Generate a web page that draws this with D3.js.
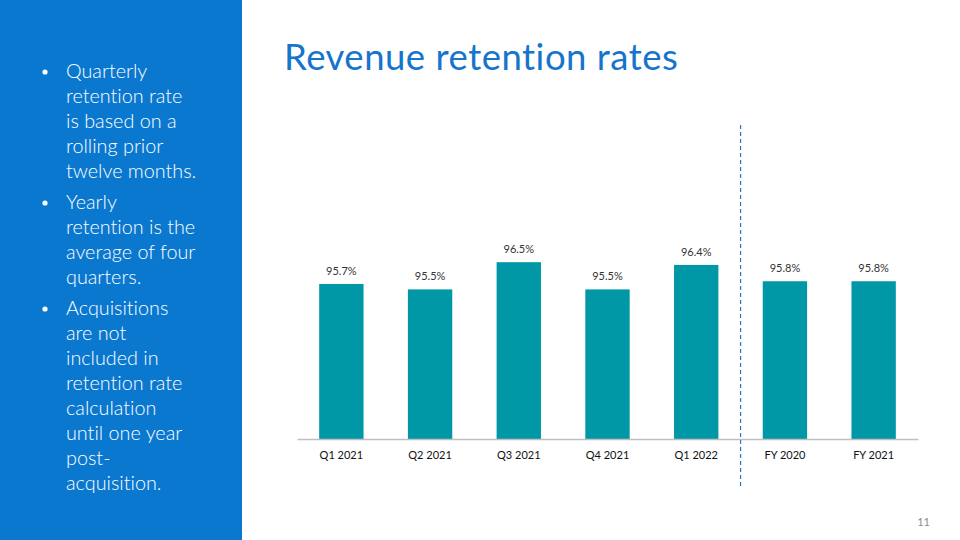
<!DOCTYPE html>
<html>
<head>
<meta charset="utf-8">
<script src="https://cdn.jsdelivr.net/npm/d3@7"></script>
<style>
  body { margin: 0; background: #fff; }
  svg { display: block; }
  text { font-variant-ligatures: none; }
</style>
</head>
<body>
<div id="chart"></div>
<script>
// data
const categories = ['Q1 2021', 'Q2 2021', 'Q3 2021', 'Q4 2021', 'Q1 2022', 'FY 2020', 'FY 2021']
const retention = [95.7, 95.5, 96.5, 95.5, 96.4, 95.8, 95.8]
const notes = [
    ['Quarterly', 'retention rate', 'is based on a', 'rolling prior', 'twelve months.'],
    ['Yearly', 'retention is the', 'average of four', 'quarters.'],
    ['Acquisitions', 'are not', 'included in', 'retention rate', 'calculation', 'until one year', 'post-', 'acquisition.']
]
const title = 'Revenue retention rates'
const pageNumber = '11'

const width = 960
const height = 540
const blue = '#0B78D0'
const teal = '#0097A6'

const svg = d3.select('#chart')
    .append('svg')
    .attr('width', width)
    .attr('height', height)

// left panel
svg.append('rect')
    .attr('width', 242)
    .attr('height', height)
    .attr('fill', blue)

const noteGroup = svg.append('g')
    .attr('font-family', 'Lato, sans-serif')
    .attr('font-weight', 300)
    .attr('font-size', 19.8)
    .attr('fill', '#fff')

let y = 78
notes.forEach((lines) => {
    noteGroup.append('circle')
        .attr('cx', 45)
        .attr('cy', y - 6)
        .attr('r', 2.6)
    lines.forEach((line) => {
        noteGroup.append('text')
            .attr('x', 66)
            .attr('y', y)
            .text(line)
        y += 25
    })
    y += 6
})

// title
svg.append('text')
    .attr('x', 284)
    .attr('y', 70)
    .attr('font-family', 'Lato, sans-serif')
    .attr('font-size', 36.5)
    .attr('letter-spacing', 0.5)
    .attr('fill', '#1574CC')
    .text(title)

// page number
svg.append('text')
    .attr('x', 930)
    .attr('y', 526)
    .attr('text-anchor', 'end')
    .attr('font-family', 'Lato, sans-serif')
    .attr('font-size', 11)
    .attr('fill', '#8c8c8c')
    .text(pageNumber)

// chart
const dims = { left: 297, right: 918, top: 167, bottom: 439 }

const xScale = d3.scaleBand()
    .domain(categories)
    .range([dims.left, dims.right])
    .paddingInner(0.5)
    .paddingOuter(0.25)

const yScale = d3.scaleLinear()
    .domain([90, 100])
    .range([dims.bottom, dims.top])

const ctr = svg.append('g')

ctr.selectAll('rect.bar')
    .data(retention)
    .join('rect')
    .attr('class', 'bar')
    .attr('x', (d, i) => xScale(categories[i]))
    .attr('y', d => yScale(d))
    .attr('width', xScale.bandwidth())
    .attr('height', d => yScale(90) - yScale(d))
    .attr('fill', teal)

ctr.selectAll('text.value')
    .data(retention)
    .join('text')
    .attr('class', 'value')
    .attr('x', (d, i) => xScale(categories[i]) + xScale.bandwidth() / 2)
    .attr('y', d => yScale(d) - 9)
    .attr('text-anchor', 'middle')
    .attr('font-family', 'Lato, sans-serif')
    .attr('font-size', 11)
    .attr('fill', '#333')
    .text(d => d.toFixed(1) + '%')

// x axis
const xAxis = d3.axisBottom(xScale).tickSize(0).tickPadding(12)
const xAxisGroup = ctr.append('g')
    .attr('transform', `translate(0, ${dims.bottom})`)
    .call(xAxis)
xAxisGroup.select('.domain')
    .attr('stroke', '#bfbfbf')
    .attr('stroke-width', 1.5)
xAxisGroup.selectAll('text')
    .attr('font-family', 'Lato, sans-serif')
    .attr('font-size', 11)
    .attr('fill', '#111')

// divider between quarters and years
const divX = (xScale('Q1 2022') + xScale.bandwidth() + xScale('FY 2020')) / 2
ctr.append('line')
    .attr('x1', divX)
    .attr('x2', divX)
    .attr('y1', 125)
    .attr('y2', 487)
    .attr('stroke', '#2E75B6')
    .attr('stroke-width', 1.2)
    .attr('stroke-dasharray', '4,3')
</script>
</body>
</html>
